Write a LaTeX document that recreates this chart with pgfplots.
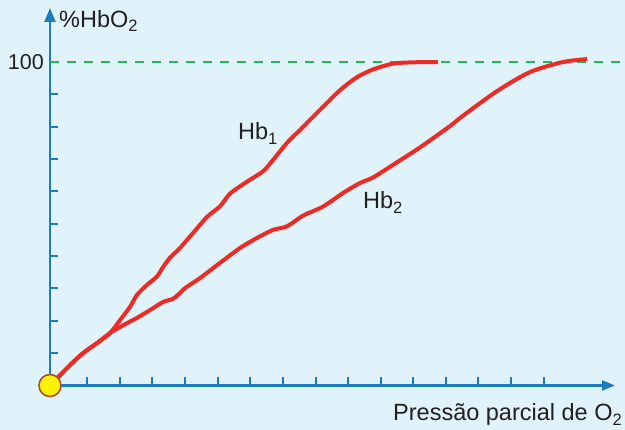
\documentclass[border=0pt]{standalone}
\usepackage{fontspec}
\setmainfont{Liberation Sans}
\usepackage{pgfplots}
\pgfplotsset{compat=1.18}
\usetikzlibrary{arrows.meta}

\definecolor{bgblue}{HTML}{E0F3FA}
\definecolor{axisblue}{HTML}{1D7BC0}
\definecolor{curvered}{HTML}{EE2A24}
\definecolor{dashgreen}{HTML}{29B45A}
\definecolor{txt}{HTML}{231F20}
\definecolor{dotyellow}{HTML}{FFF200}
\definecolor{dotbrown}{HTML}{A0522D}

\newcommand\lbl{\fontsize{23.5}{27}\selectfont\color{txt}}
\newcommand\sub[1]{\raisebox{-0.2em}{\fontsize{16.5}{17}\selectfont #1}}

\begin{document}
\begin{tikzpicture}
\path[use as bounding box, fill=bgblue] (0,0) rectangle (625pt,430pt);
\begin{axis}[
    at={(50pt,44.5pt)}, anchor=south west,
    scale only axis,
    width=565pt, height=377.5pt,
    xmin=0, xmax=565, ymin=0, ymax=116.7,
    enlargelimits=false,
    clip=false,
    axis lines=left,
    axis line style={line width=2.5pt, color=axisblue},
    x axis line style={-{Triangle[length=13pt,width=10pt]}},
    y axis line style={-{Triangle[length=14pt,width=11pt]}},
    tick align=inside,
    major tick length=8pt,
    tick style={line width=2pt, color=axisblue},
    xtick={37,70,102,135,168,200,233,266,298,331,363,396,428,461,494},
    xticklabels={},
    ytick={10,20,30,40,50,60,70,80,90,100},
    yticklabels={,,,,,,,,,100},
    yticklabel style={font=\fontsize{21.5}{25}\selectfont\color{txt}, inner sep=0pt, xshift=-6pt},
]
% 100 % reference line
\addplot[dashgreen, line width=2.2pt, dash pattern=on 9pt off 8pt]
    coordinates {(0,100) (575,100)};

% origin dot
\addplot[only marks, mark=*, mark size=11pt,
    mark options={fill=dotyellow, draw=dotbrown, line width=1.6pt}]
    coordinates {(0,0)};

% Hb1
\addplot[curvered, line width=4pt, smooth, tension=0.45] coordinates {
    (0,0) (20,6.3) (33,10.0) (47,13.1) (60,16.2) (70,20.2) (80,24.3)
    (87,28.0) (97,31.1) (107,33.7) (113,36.6) (120,39.5) (130,42.5)
    (137,45.0) (143,47.1) (157,52.1) (170,55.4) (180,59.3) (197,63.0)
    (213,66.2) (223,69.7) (237,75.0) (250,79.0) (270,85.2) (290,91.3)
    (307,95.3) (323,97.7) (343,99.5) (363,99.9) (388,100)
};

% Hb2
\addplot[curvered, line width=4pt, smooth, tension=0.45] coordinates {
    (0,0) (20,6.3) (33,10.0) (47,13.1) (60,16.2) (73,18.6) (87,20.9)
    (100,23.3) (113,25.8) (123,26.8) (130,28.6) (135,30.1) (150,33.2)
    (167,37.2) (190,42.5) (207,45.6) (223,48.1) (237,49.2) (253,52.5)
    (273,55.3) (293,59.5) (310,62.6) (323,64.3) (343,68.2) (370,73.6)
    (400,80.2) (413,83.4) (447,91.0) (480,96.9) (513,100) (537,100.9)
};

\node[anchor=base west, inner sep=0pt] at (axis cs:9,110.8) {\lbl\%HbO\sub{2}};
\node[anchor=base west, inner sep=0pt] at (axis cs:188,75.9) {\lbl Hb\sub{1}};
\node[anchor=base west, inner sep=0pt] at (axis cs:313,54.6) {\lbl Hb\sub{2}};
\node[anchor=base east, inner sep=0pt] at (axis cs:572,-10.9) {\lbl Pressão parcial de O\sub{2}};
\end{axis}
\end{tikzpicture}
\end{document}
